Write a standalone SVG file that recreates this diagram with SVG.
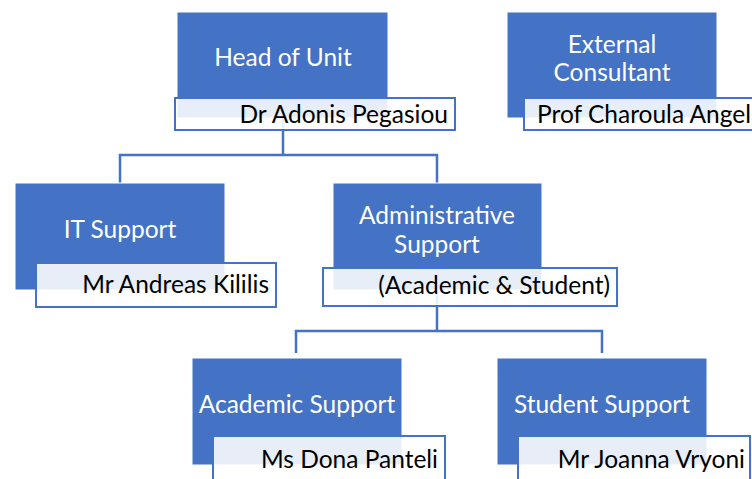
<svg xmlns="http://www.w3.org/2000/svg" width="752" height="479" viewBox="0 0 752 479">
<style>
.role{fill:#4472C4;stroke:#ffffff;stroke-width:1}
.name{fill:#ffffff;fill-opacity:0.88;stroke:#4472C4;stroke-width:2}
.wt{font-family:Lato,"Liberation Sans",sans-serif;font-size:24.5px;fill:#ffffff;text-anchor:middle}
.bt{font-family:Lato,"Liberation Sans",sans-serif;font-size:24.5px;fill:#000000;text-anchor:end}
.conn{fill:none;stroke:#4472C4;stroke-width:2.5}
</style>
<rect width="752" height="479" fill="#ffffff"/>
<g id="connectors">
<path class="conn" d="M283,118 V155 M120,183 V155 H437 V183"/>
<path class="conn" d="M437,290 V331 M296,353 V331 H602 V353"/>
</g>
<g id="head">
<rect class="role" x="177" y="12" width="211" height="106"/>
<text class="wt" x="283" y="66">Head of Unit</text>
<rect class="name" x="175" y="98" width="280" height="32"/>
<text class="bt" x="448" y="123">Dr Adonis Pegasiou</text>
</g>
<g id="external">
<rect class="role" x="507" y="12" width="210" height="106"/>
<text class="wt" x="612" y="53">External</text>
<text class="wt" x="612" y="81">Consultant</text>
<rect class="name" x="524" y="98" width="240" height="32"/>
<text class="wt" style="fill:#000000;text-anchor:start" x="537" y="123">Prof Charoula Angel</text>
</g>
<g id="it">
<rect class="role" x="15" y="183" width="210" height="107"/>
<text class="wt" x="120" y="238">IT Support</text>
<rect class="name" x="36" y="263" width="240" height="44"/>
<text class="bt" x="269" y="293">Mr Andreas Kililis</text>
</g>
<g id="admin">
<rect class="role" x="333" y="183" width="209" height="107"/>
<text class="wt" x="437" y="224">Administrative</text>
<text class="wt" x="437" y="253">Support</text>
<rect class="name" x="323" y="268" width="294" height="38"/>
<text class="bt" x="610" y="294">(Academic &amp; Student)</text>
</g>
<g id="academic">
<rect class="role" x="192" y="358" width="210" height="107"/>
<text class="wt" x="297" y="413">Academic Support</text>
<rect class="name" x="213" y="436" width="232" height="60"/>
<text class="bt" x="438" y="468">Ms Dona Panteli</text>
</g>
<g id="student">
<rect class="role" x="497" y="358" width="210" height="107"/>
<text class="wt" x="602" y="413">Student Support</text>
<rect class="name" x="518" y="436" width="232" height="60"/>
<text class="bt" x="745" y="468">Mr Joanna Vryoni</text>
</g>
</svg>
